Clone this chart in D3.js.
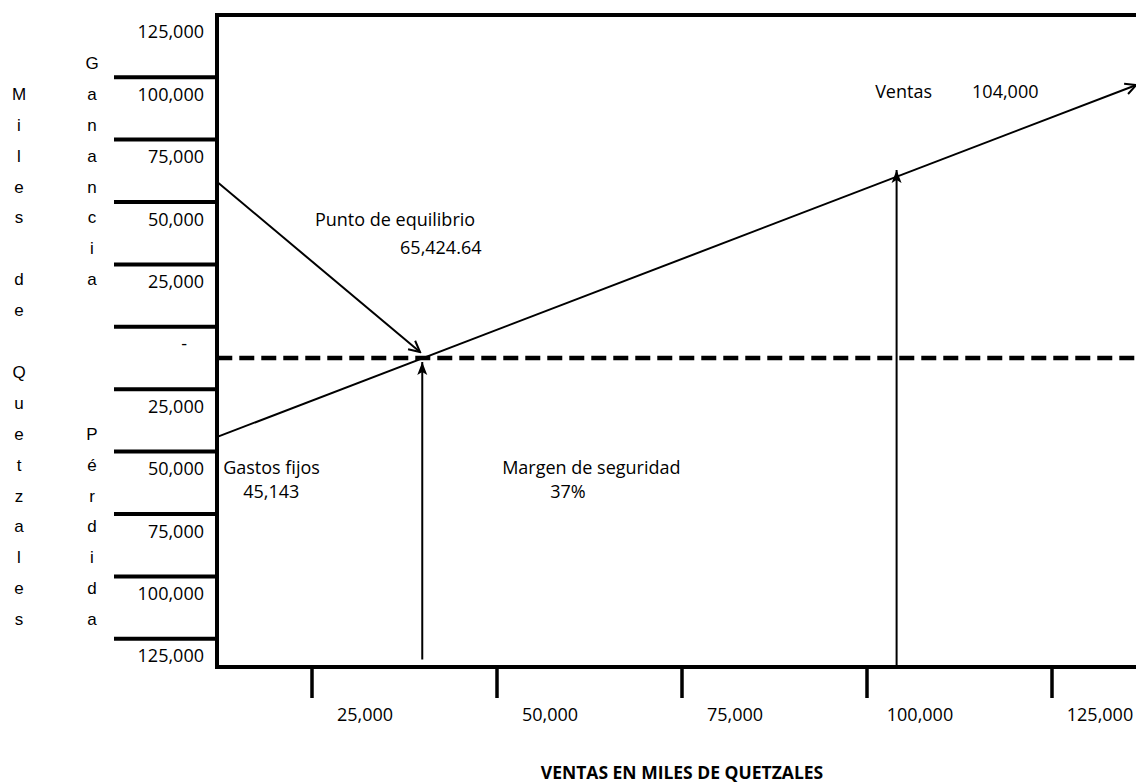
<!DOCTYPE html>
<html>
<head>
<meta charset="utf-8">
<script src="https://cdn.jsdelivr.net/npm/d3@7"></script>
<style>
  html, body { margin: 0; padding: 0; background: #fff; }
  svg { display: block; }
  text { fill: #000; }
  .lbl { font-family: "Open Sans", sans-serif; font-size: 18px; }
  .col { font-family: "Liberation Sans", Arial, sans-serif; font-size: 17px; }
  .title { font-family: "Open Sans", sans-serif; font-size: 17.5px; font-weight: 700; }
</style>
</head>
<body>
<div id="chart"></div>
<script>
// Y axis: profit above zero, loss below (labels shown without sign)
const yTickValues = [125000, 100000, 75000, 50000, 25000, 0, -25000, -50000, -75000, -100000, -125000];
const yTickLabels = ["125,000", "100,000", "75,000", "50,000", "25,000", "-", "25,000", "50,000", "75,000", "100,000", "125,000"];

// X axis: sales
const xTickValues = [25000, 50000, 75000, 100000, 125000];
const xTickLabels = ["25,000", "50,000", "75,000", "100,000", "125,000"];

// Lines, as [sales, profit]
const ventasLine = [[12200, -31600], [136400, 109400]];
const equilibrioArrow = [[12200, 70500], [39600, 2400]];
const equilibrioStem = [[39900, -120800], [39900, -1600]];
const ventasStem = [[104000, -123500], [104000, 75300]];
const zeroLine = [[12200, 0], [136400, 0]];

// Side captions, one letter per row
const leftCaption = "Miles de Quetzales";
const rightCaption = "Ganancia    Pérdida";

const notes = [
    { text: "Punto de equilibrio", x: 25400, y: 52900 },
    { text: "65,424.64", x: 36900, y: 41700 },
    { text: "Ventas", x: 101100, y: 104200 },
    { text: "104,000", x: 114200, y: 104200 },
    { text: "Gastos fijos", x: 13000, y: -46500 },
    { text: "45,143", x: 15700, y: -56100 },
    { text: "Margen de seguridad", x: 50700, y: -46500 },
    { text: "37%", x: 57200, y: -56100 }
];

const width = 1136;
const height = 783;
const frame = { left: 217, right: 1136, top: 15, bottom: 667 };

const x = d3.scaleLinear().domain([0, 125000]).range([127, 1052]);
const y = d3.scaleLinear().domain([0, 125000]).range([358, 46]);

const svg = d3.select("#chart").append("svg")
    .attr("width", width)
    .attr("height", height)
    .attr("viewBox", [0, 0, width, height]);

const defs = svg.append("defs");
defs.append("marker")
    .attr("id", "open")
    .attr("viewBox", "0 0 14 14")
    .attr("refX", 12).attr("refY", 7)
    .attr("markerWidth", 14).attr("markerHeight", 14)
    .attr("markerUnits", "userSpaceOnUse")
    .attr("orient", "auto")
  .append("path")
    .attr("d", "M1,1.5 L12,7 L1,12.5")
    .attr("fill", "none")
    .attr("stroke", "#000")
    .attr("stroke-width", 2);
defs.append("marker")
    .attr("id", "solid")
    .attr("viewBox", "0 0 14 12")
    .attr("refX", 13).attr("refY", 6)
    .attr("markerWidth", 14).attr("markerHeight", 12)
    .attr("markerUnits", "userSpaceOnUse")
    .attr("orient", "auto")
  .append("path")
    .attr("d", "M0,1 L13,6 L0,11 L3,6 Z")
    .attr("fill", "#000");

const line = d3.line().x(d => x(d[0])).y(d => y(d[1]));

// Frame: left axis, top and bottom edges
svg.append("g")
    .attr("stroke", "#000")
    .attr("stroke-width", 4)
    .attr("stroke-linecap", "square")
    .call(g => g.append("line").attr("x1", frame.left).attr("x2", frame.left).attr("y1", frame.top).attr("y2", frame.bottom))
    .call(g => g.append("line").attr("x1", frame.left).attr("x2", frame.right).attr("y1", frame.top).attr("y2", frame.top))
    .call(g => g.append("line").attr("x1", frame.left).attr("x2", frame.right).attr("y1", frame.bottom).attr("y2", frame.bottom));

// Y axis: heavy separators between the labels
const ySeparators = d3.pairs(yTickValues).map(([a, b]) => (a + b) / 2);
svg.append("g")
  .selectAll("line")
  .data(ySeparators)
  .join("line")
    .attr("x1", 114)
    .attr("x2", frame.left)
    .attr("y1", d => y(d))
    .attr("y2", d => y(d))
    .attr("stroke", "#000")
    .attr("stroke-width", 4);

svg.append("g")
  .selectAll("text")
  .data(yTickValues)
  .join("text")
    .attr("class", "lbl")
    .attr("text-anchor", "end")
    .attr("x", (d, i) => yTickLabels[i] === "-" ? 187 : 204)
    .attr("y", d => y(d) - 14)
    .attr("dy", "0.35em")
    .text((d, i) => yTickLabels[i]);

// X axis: ticks below the frame, labels to the right of each tick
svg.append("g")
  .selectAll("line")
  .data(xTickValues)
  .join("line")
    .attr("x1", d => x(d))
    .attr("x2", d => x(d))
    .attr("y1", frame.bottom)
    .attr("y2", 698)
    .attr("stroke", "#000")
    .attr("stroke-width", 3.5);

svg.append("g")
  .selectAll("text")
  .data(xTickValues)
  .join("text")
    .attr("class", "lbl")
    .attr("text-anchor", "middle")
    .attr("x", d => Math.min(x(d) + 53, width - 36))
    .attr("y", 715)
    .attr("dy", "0.35em")
    .text((d, i) => xTickLabels[i]);

svg.append("text")
    .attr("class", "title")
    .attr("text-anchor", "middle")
    .attr("x", 682)
    .attr("y", 773)
    .attr("dy", "0.35em")
    .text("VENTAS EN MILES DE QUETZALES");

// Break-even level (dashed)
svg.append("path")
    .attr("d", line(zeroLine))
    .attr("fill", "none")
    .attr("stroke", "#000")
    .attr("stroke-width", 4.5)
    .attr("stroke-dasharray", "15,7");

// Sales line and the arrows
svg.append("path")
    .attr("d", line(ventasLine))
    .attr("fill", "none")
    .attr("stroke", "#000")
    .attr("stroke-width", 2)
    .attr("marker-end", "url(#open)");

svg.append("path")
    .attr("d", line(equilibrioArrow))
    .attr("fill", "none")
    .attr("stroke", "#000")
    .attr("stroke-width", 2)
    .attr("marker-end", "url(#open)");

svg.append("g")
  .selectAll("path")
  .data([equilibrioStem, ventasStem])
  .join("path")
    .attr("d", line)
    .attr("fill", "none")
    .attr("stroke", "#000")
    .attr("stroke-width", 2)
    .attr("marker-end", "url(#solid)");

// Annotations
svg.append("g")
  .selectAll("text")
  .data(notes)
  .join("text")
    .attr("class", "lbl")
    .attr("x", d => x(d.x))
    .attr("y", d => y(d.y))
    .text(d => d.text);

// Vertical captions at the far left
const rowY = i => 63 + 30.9 * i;
svg.append("g")
  .selectAll("text")
  .data(Array.from(leftCaption))
  .join("text")
    .attr("class", "col")
    .attr("text-anchor", "middle")
    .attr("x", 19)
    .attr("y", (d, i) => rowY(i + 1))
    .attr("dy", "0.35em")
    .text(d => d);

svg.append("g")
  .selectAll("text")
  .data(Array.from(rightCaption))
  .join("text")
    .attr("class", "col")
    .attr("text-anchor", "middle")
    .attr("x", 92)
    .attr("y", (d, i) => rowY(i))
    .attr("dy", "0.35em")
    .text(d => d);
</script>
</body>
</html>
